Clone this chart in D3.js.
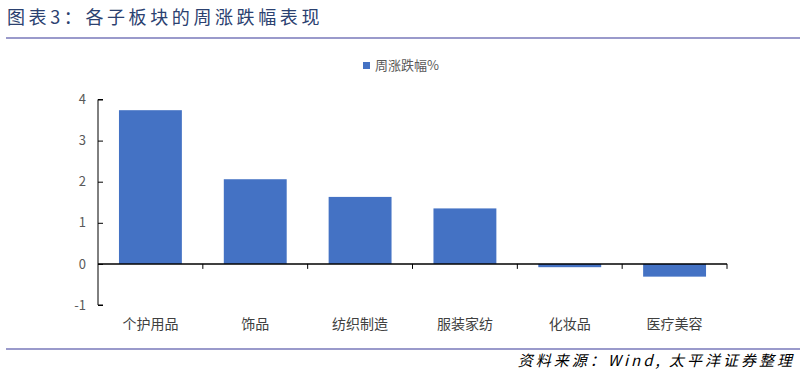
<!DOCTYPE html>
<html lang="zh">
<head>
<meta charset="UTF-8" />
<title>各子板块的周涨跌幅表现</title>
<script src="https://cdn.jsdelivr.net/npm/d3@7/dist/d3.min.js"></script>
<style>
  body { margin: 0; background: #fff; }
  text { font-family: "Noto Sans CJK SC", "Microsoft YaHei", sans-serif; }
  .title { fill: #2b4170; font-size: 18px; letter-spacing: 3.6px; }
  .rule { stroke: #9a9acb; stroke-width: 2px; }
  .bar { fill: #4472c4; }
  .axis path, .axis line { stroke: #000; }
  .axis text { fill: #595959; font-size: 13px; }
  .cat { fill: #404040; font-size: 14px; }
  .legend { fill: #595959; font-size: 13px; }
  .source { fill: #000; font-size: 15px; font-style: italic; letter-spacing: 3px; }
</style>
</head>
<body>
<script>
// data
var categories = ["个护用品", "饰品", "纺织制造", "服装家纺", "化妆品", "医疗美容"];
var weeklyChange = [3.74, 2.06, 1.63, 1.35, -0.08, -0.31];
var yTicks = [-1, 0, 1, 2, 3, 4];

var w = 805, h = 375;
var margin = { top: 99.5, right: 78, bottom: 70, left: 98 };

var svg = d3.select("body").append("svg")
    .attr("width", w)
    .attr("height", h);

//title + rules
svg.append("text")
   .attr("class", "title")
   .attr("x", 7)
   .attr("y", 24)
   .text("图表3：各子板块的周涨跌幅表现");
svg.append("line").attr("class", "rule")
   .attr("x1", 6).attr("x2", 800).attr("y1", 38).attr("y2", 38);
svg.append("line").attr("class", "rule")
   .attr("x1", 6).attr("x2", 800).attr("y1", 349).attr("y2", 349);

//scales
var xScale = d3.scaleBand()
    .domain(categories)
    .range([margin.left, w - margin.right])
    .paddingInner(0.4)
    .paddingOuter(0.2);
var yScale = d3.scaleLinear()
    .domain([-1, 4])
    .range([305, margin.top]);

//bars
svg.selectAll(".bar")
   .data(categories)
   .enter().append("rect")
   .attr("class", "bar")
   .attr("x", function(d) { return xScale(d); })
   .attr("width", xScale.bandwidth())
   .attr("y", function(d, i) { return yScale(Math.max(0, weeklyChange[i])); })
   .attr("height", function(d, i) { return Math.abs(yScale(weeklyChange[i]) - yScale(0)); });

//y axis (ticks pointing inward)
var yAxis = d3.axisRight(yScale)
    .tickValues(yTicks)
    .tickSize(5)
    .tickFormat(function(d) { return String(d); });
var gy = svg.append("g")
   .attr("class", "axis")
   .attr("transform", "translate(" + margin.left + ",0)")
   .call(yAxis);
gy.selectAll("text")
  .attr("x", -12)
  .attr("text-anchor", "end");
gy.select(".domain").attr("d", "M5," + yScale(4) + "H0V" + yScale(-1) + "H5");

//x axis along zero
var x0 = xScale.range()[0], x1 = xScale.range()[1];
var xTickPos = d3.range(categories.length + 1).map(function(i) { return x0 + i * (x1 - x0) / categories.length; });
var gx = svg.append("g").attr("class", "axis");
gx.append("line")
  .attr("x1", x0).attr("x2", x1)
  .attr("y1", yScale(0)).attr("y2", yScale(0))
  .attr("stroke-width", 1.5);
gx.selectAll(".xtick")
  .data(xTickPos.slice(1))
  .enter().append("line")
  .attr("x1", function(d) { return d; })
  .attr("x2", function(d) { return d; })
  .attr("y1", yScale(0))
  .attr("y2", yScale(0) + 5);

//category labels
svg.selectAll(".cat")
   .data(categories)
   .enter().append("text")
   .attr("class", "cat")
   .attr("x", function(d) { return xScale(d) + xScale.bandwidth() / 2; })
   .attr("y", 329)
   .attr("text-anchor", "middle")
   .text(function(d) { return d; });

//legend
svg.append("rect")
   .attr("class", "bar")
   .attr("x", 363).attr("y", 62)
   .attr("width", 7).attr("height", 7);
svg.append("text")
   .attr("class", "legend")
   .attr("x", 375)
   .attr("y", 70)
   .text("周涨跌幅%");

//source
svg.append("text")
   .attr("class", "source")
   .attr("x", 795)
   .attr("y", 366)
   .attr("text-anchor", "end")
   .text("资料来源：Wind, 太平洋证券整理");
</script>
</body>
</html>
